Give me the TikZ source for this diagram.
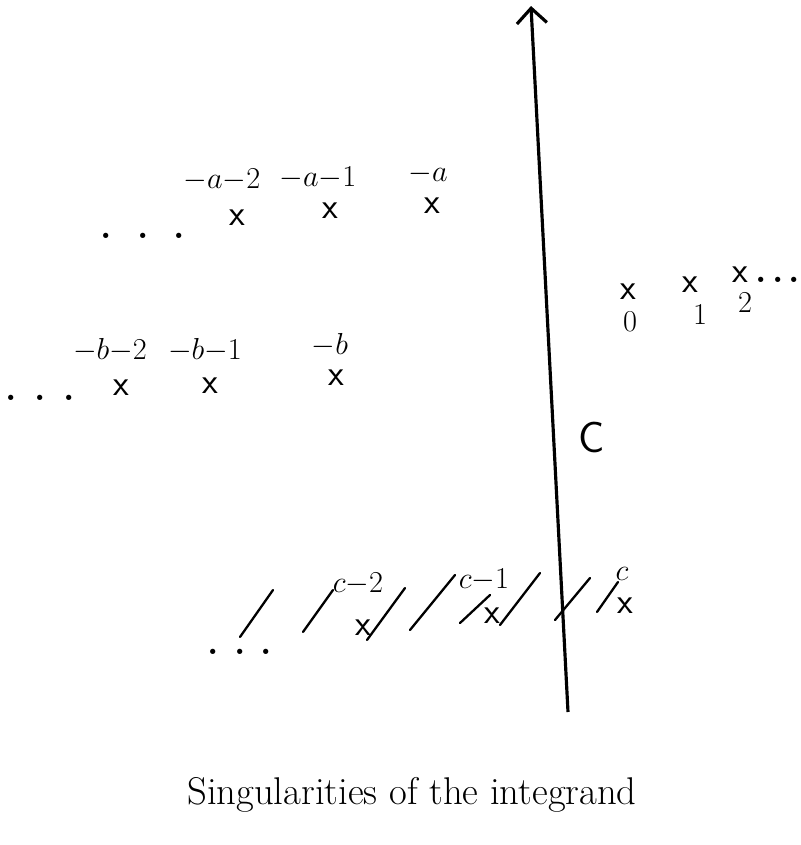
\documentclass[tikz,border=0pt]{standalone}
\usepackage{tikz}
\usetikzlibrary{arrows.meta,positioning}
\newcommand{\sdots}[1]{\textbf{.}\hspace{#1}\textbf{.}\hspace{#1}\textbf{.}}

\begin{document}
\begin{tikzpicture}[
  x=0.02cm, y=-0.02cm,
  pole/.style={font=\huge\sffamily, inner sep=1pt},
  lab/.style={font=\LARGE, inner sep=1pt},
  dots/.style={font=\huge, inner sep=0pt},
  hatch/.style={line width=1.3pt, line cap=round},
  contour/.style={-{Straight Barb[length=3mm,width=6mm]}, line width=1.8pt}
]
  \useasboundingbox (0,0) rectangle (801,845);

  % poles -a-n
  \node[pole] (a2) at (237,218) {x};
  \node[pole] (a1) at (330,211) {x};
  \node[pole] (a0) at (432,206) {x};
  \node[lab] at (222,180) {${-}a{-}2$};
  \node[lab] at (318,178) {${-}a{-}1$};
  \node[lab] at (428,174) {${-}a$};
  \node[dots] (adots) at (143,236) {\sdots{5mm}};

  % poles -b-n
  \node[pole] (b2) at (121,388) {x};
  \node[pole] (b1) at (210,386) {x};
  \node[pole] (b0) at (336,378) {x};
  \node[lab] at (110,350) {${-}b{-}2$};
  \node[lab] at (205,350) {${-}b{-}1$};
  \node[lab] at (330,345) {${-}b$};
  \node[dots] (bdots) at (40,398) {\sdots{3.5mm}};

  % poles 0, 1, 2
  \node[pole] (n0) at (628,292) {x};
  \node[pole] (n1) at (690,285) {x};
  \node[pole] (n2) at (740,275) {x};
  \node[lab] at (630,322) {$0$};
  \node[lab] at (700,315) {$1$};
  \node[lab] at (745,303) {$2$};
  \node[dots] (ndots) at (778,280) {\sdots{1mm}};

  % poles c-n
  \node[pole] (c2) at (363,628) {x};
  \node[pole] (c1) at (492,616) {x};
  \node[pole] (c0) at (625,606) {x};
  \node[lab] at (358,584) {${c}{-}2$};
  \node[lab] at (484,580) {${c}{-}1$};
  \node[lab] at (622,574) {$c$};
  \node[dots] (cdots) at (240,652) {\sdots{3mm}};
  \foreach \xa/\ya/\xb/\yb in {240/637/273/590, 303/632/333/590,
      367/640/405/588, 410/630/455/575, 460/623/490/595,
      500/625/540/573, 555/620/590/578, 597/612/618/582}
    \draw[hatch] (\xa,\ya) -- (\xb,\yb);

  % contour
  \coordinate (cbot) at (568,712);
  \coordinate (ctop) at (531,6);
  \draw[contour] (cbot) -- (ctop);
  \node[font=\Huge\sffamily] (clab) at (592,437) {C};

  \node[font=\fontsize{22}{26}\selectfont] (title) at (412,795) {Singularities of the integrand};
\end{tikzpicture}
\end{document}
